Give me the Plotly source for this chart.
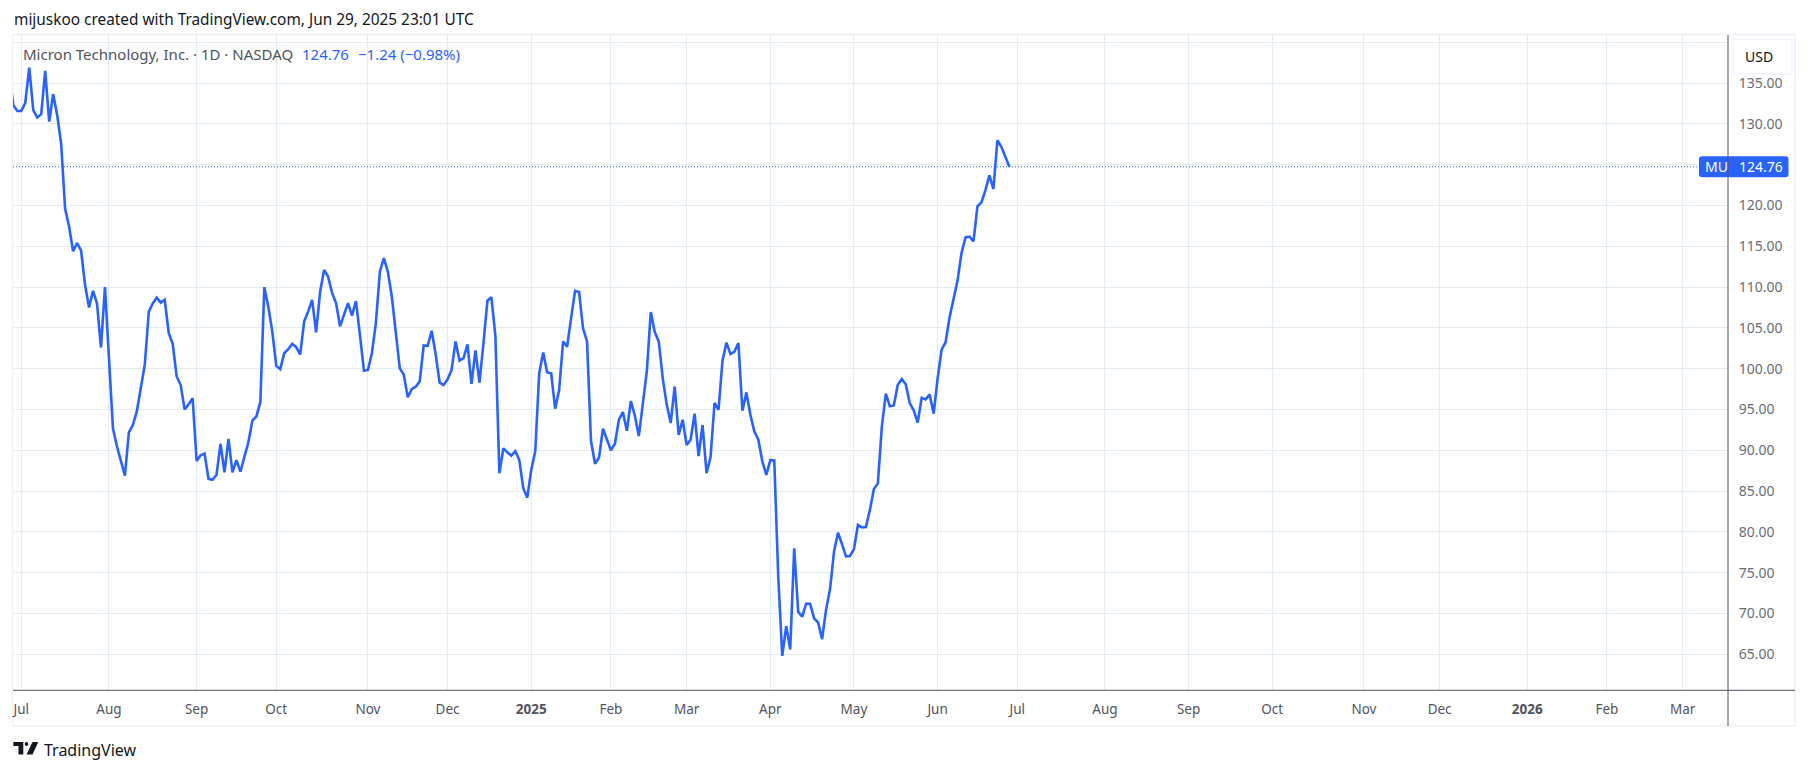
import plotly.graph_objects as go

# bar number counted in trading days from Jul 1 2024 (first bars sit left of the pane edge)
first_bar = -3
closes = [
    136.0, 132.3, 131.6, 131.6, 132.6, 136.9, 131.7, 130.8, 131.2, 136.5,
    130.3, 133.65, 131.1, 127.6, 119.6, 117.4, 114.4, 115.4, 114.5, 110.3,
    107.5, 109.55, 108.0, 102.6, 110.0, 101.1, 92.7, 90.5, 88.6, 86.9,
    92.2, 93.1, 94.8, 97.6, 100.5, 107.0, 108.0, 108.7, 108.1, 108.45,
    104.4, 103.05, 99.05, 98.0, 95.0, 95.65, 96.4, 88.7, 89.4, 89.6,
    86.5, 86.4, 87.0, 90.8, 87.3, 91.4, 87.3, 88.8, 87.4, 89.2,
    91.0, 93.65, 94.15, 95.9, 110.0, 107.6, 104.55, 100.35, 99.95, 101.9,
    102.4, 103.05, 102.65, 101.75, 105.8, 107.0, 108.45, 104.45, 109.4, 112.1,
    111.3, 109.3, 108.05, 105.2, 106.6, 108.05, 106.5, 108.3, 104.15, 99.75,
    99.85, 101.9, 105.6, 111.9, 113.55, 111.9, 108.85, 104.55, 100.05, 99.3,
    96.5, 97.5, 97.8, 98.45, 102.85, 102.8, 104.65, 101.8, 98.3, 98.0,
    98.7, 99.85, 103.35, 101.0, 101.3, 103.0, 98.15, 102.25, 98.3, 103.1,
    108.35, 108.75, 104.0, 87.2, 90.25, 89.75, 89.35, 89.9, 88.8, 85.35,
    84.2, 87.6, 89.9, 99.45, 102.0, 99.55, 99.45, 95.1, 97.4, 103.35,
    102.7, 106.2, 109.55, 109.4, 104.95, 103.35, 91.1, 88.35, 89.1, 92.65,
    91.3, 90.0, 90.8, 93.75, 94.7, 92.4, 96.05, 94.25, 91.75, 95.8,
    99.65, 106.95, 104.5, 103.35, 98.85, 95.6, 93.35, 97.8, 91.9, 93.75,
    90.65, 91.3, 94.5, 89.3, 93.1, 87.2, 89.15, 95.8, 94.95, 101.0,
    103.2, 101.8, 102.1, 103.15, 94.85, 97.1, 94.35, 92.3, 91.3, 88.65,
    87.0, 88.8, 88.75, 74.5, 64.8, 68.45, 65.6, 78.0, 70.2, 69.6,
    71.2, 71.2, 69.4, 68.9, 66.85, 70.45, 73.0, 77.6, 79.9, 78.5,
    77.0, 77.05, 77.9, 80.85, 80.55, 80.6, 82.7, 85.25, 85.95, 92.9,
    96.95, 95.4, 95.5, 98.05, 98.75, 98.1, 95.8, 94.9, 93.4, 96.45,
    96.25, 96.85, 94.5, 98.8, 102.35, 103.25, 106.3, 108.55, 110.8, 114.2,
    116.1, 116.2, 115.6, 119.9, 120.4, 121.9, 123.7, 122.05, 128.0, 127.2,
    125.9, 124.76,
]
bars = list(range(first_bar, first_bar + len(closes)))

month_bars = [0, 22, 44, 64, 87, 107, 128, 148, 167, 188, 209, 230, 250,
              272, 293, 314, 337, 356, 378, 398, 417]
month_labels = ["Jul", "Aug", "Sep", "Oct", "Nov", "Dec", "<b>2025</b>", "Feb", "Mar", "Apr", "May", "Jun", "Jul",
                "Aug", "Sep", "Oct", "Nov", "Dec", "<b>2026</b>", "Feb", "Mar"]
price_ticks = [65, 70, 75, 80, 85, 90, 95, 100, 105, 110, 115, 120, 125, 130, 135, 140]
price_labels = ["65.00", "70.00", "75.00", "80.00", "85.00", "90.00", "95.00", "100.00",
                "105.00", "110.00", "115.00", "120.00", "", "130.00", "135.00", ""]
last_price = 124.76

W, H = 1808, 772
BLUE = "#2962FF"
GRID = "#E2EDF5"
FRAME = "#F0F3FA"
AXIS = "#50535E"
FONT = "Noto Sans"

# pane edges in page pixels
left, right, top, bottom = 13, 1728, 35, 690.3


def px(x):
    return x / W


def py(y):
    return 1 - y / H


def path(points):
    return "M " + " L ".join(f"{px(x):.5f},{py(y):.5f}" for x, y in points) + " Z"


def text(x, y, s, size, color, anchor="left"):
    return dict(xref="paper", yref="paper", x=px(x), y=py(y), text=s, showarrow=False,
                xanchor=anchor, yanchor="middle", font=dict(size=size, color=color, family=FONT))


def price_text(x, s, anchor):
    note = text(x, 0, s, 14, "white", anchor)
    note["yref"] = "y"
    note["y"] = last_price
    return note


def tag_path(x0, x1, half, r):
    a, b = px(x0), px(x1)
    ra, rb = px(x0 + r), px(x1 - r)
    return (f"M {ra:.5f},{-half} L {rb:.5f},{-half} Q {b:.5f},{-half} {b:.5f},{-half + r} "
            f"L {b:.5f},{half - r} Q {b:.5f},{half} {rb:.5f},{half} L {ra:.5f},{half} "
            f"Q {a:.5f},{half} {a:.5f},{half - r} L {a:.5f},{-half + r} Q {a:.5f},{-half} {ra:.5f},{-half} Z")


fig = go.Figure()
fig.add_trace(go.Scatter(x=bars, y=closes, mode="lines", line=dict(color=BLUE, width=2.6), hoverinfo="skip"))

shapes = [
    # outer frame
    dict(type="rect", xref="paper", yref="paper", x0=px(12.5), x1=px(1795), y0=py(726), y1=py(34.5),
         line=dict(color=FRAME, width=2), layer="below"),
    # last price line
    dict(type="line", xref="paper", yref="y", x0=px(left), x1=px(1699), y0=last_price, y1=last_price,
         line=dict(color=BLUE, width=1, dash="1px,2px"), layer="above"),
    # price tag
    dict(type="path", xref="paper", yref="y", ysizemode="pixel", yanchor=last_price,
         path=tag_path(1699, 1788.5, 10.5, 3),
         fillcolor=BLUE, line=dict(color=BLUE, width=0), layer="above"),
    # USD button
    dict(type="rect", xref="paper", yref="paper", x0=px(1733), x1=px(1792), y0=py(74), y1=py(39.5),
         fillcolor="white", line=dict(color=FRAME, width=1.5), layer="above"),
    # axis lines
    dict(type="line", xref="paper", yref="paper", x0=px(left), x1=px(1795), y0=py(bottom), y1=py(bottom),
         line=dict(color=AXIS, width=1), layer="above"),
    dict(type="line", xref="paper", yref="paper", x0=px(right), x1=px(right), y0=py(35), y1=py(726),
         line=dict(color=AXIS, width=1), layer="above"),
    # TradingView mark
    dict(type="path", xref="paper", yref="paper", fillcolor="#131722", line=dict(width=0),
         path=path([(13.3, 742), (23.3, 742), (23.3, 754.5), (18.5, 754.5), (18.5, 746), (13.3, 746)])),
    dict(type="circle", xref="paper", yref="paper", fillcolor="#131722", line=dict(width=0),
         x0=px(24.7), x1=px(28.3), y0=py(746), y1=py(742)),
    dict(type="path", xref="paper", yref="paper", fillcolor="#131722", line=dict(width=0),
         path=path([(32.5, 742), (38.3, 742), (32.5, 754.5), (26.5, 754.5)])),
]

annotations = [
    text(11.5, 20, "mijuskoo created with TradingView.com, Jun 29, 2025 23:01 UTC", 15.4, "#131722"),
    text(21, 54, "Micron Technology, Inc. · 1D · NASDAQ", 15, "#50535E"),
    text(300, 54, "124.76", 15, BLUE),
    text(356, 54, "−1.24 (−0.98%)", 15, BLUE),
    text(1759, 56.5, "USD", 14, "#131722", "center"),
    price_text(1702.5, "MU", "left"),
    price_text(1785, "124.76", "right"),
    text(42, 750, "TradingView", 16, "#131722"),
]

fig.update_layout(
    width=W,
    height=H,
    margin=dict(l=0, r=0, t=0, b=0),
    paper_bgcolor="white",
    plot_bgcolor="white",
    showlegend=False,
    shapes=shapes,
    annotations=annotations,
    font=dict(family=FONT, color="#50535E"),
    xaxis=dict(
        domain=[px(left), px(right)],
        range=[(left - 21.3) / 3.984, (right - 21.3) / 3.984],
        tickmode="array",
        tickvals=month_bars,
        ticktext=month_labels,
        showgrid=True,
        gridcolor=GRID,
        gridwidth=1,
        zeroline=False,
        showline=False,
        ticks="outside",
        ticklen=6,
        tickcolor="rgba(0,0,0,0)",
        tickfont=dict(size=13.5, color="#50535E", family=FONT),
        anchor="y",
    ),
    yaxis=dict(
        domain=[py(bottom), py(top)],
        range=[65 - (bottom - 654.3) / 8.157, 140 + (42.4 - top) / 8.157],
        side="right",
        tickmode="array",
        tickvals=price_ticks,
        ticktext=price_labels,
        showgrid=True,
        gridcolor=GRID,
        gridwidth=1,
        zeroline=False,
        showline=False,
        ticks="outside",
        ticklen=7,
        tickcolor="rgba(0,0,0,0)",
        tickfont=dict(size=14, color="#6A6D78", family=FONT),
        anchor="x",
    ),
)

fig.write_html("out.html", post_script="document.body.style.margin='0';", config=dict(displayModeBar=False))
